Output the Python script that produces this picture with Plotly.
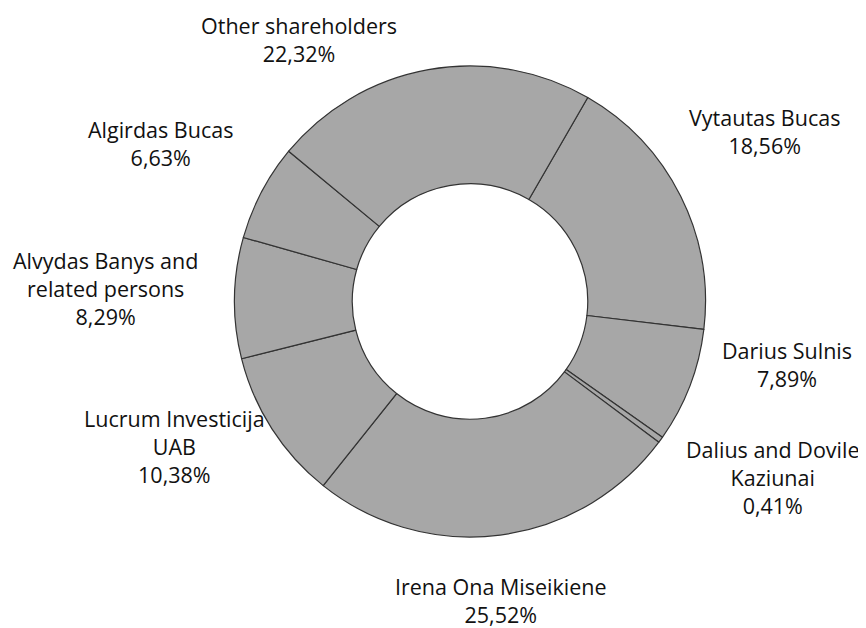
import plotly.graph_objects as go

# Data (clockwise order, starting from the top-right slice)
shareholders = [
    "Vytautas Bucas",
    "Darius Sulnis",
    "Dalius and Dovile<br>Kaziunai",
    "Irena Ona Miseikiene",
    "Lucrum Investicija<br>UAB",
    "Alvydas Banys and<br>related persons",
    "Algirdas Bucas",
    "Other shareholders",
]
shares_pct = [18.56, 7.89, 0.41, 25.52, 10.38, 8.29, 6.63, 22.32]

# Label placement (page-pixel centres of each label block)
label_x = [764, 787, 773, 501, 174, 105, 160, 299]
label_y = [131.5, 364.5, 477, 600, 446, 288, 143.5, 39.5]

PAGE_OFF = 8          # default body margin of the html page
W, H = 866 - PAGE_OFF, 628 - PAGE_OFF
cx, cy, r = 470 - PAGE_OFF, 301.5 - PAGE_OFF, 235.5

fig = go.Figure()
fig.add_trace(go.Pie(
    labels=shareholders,
    values=shares_pct,
    sort=False,
    direction="clockwise",
    rotation=30,
    hole=0.5,
    textinfo="none",
    hoverinfo="label+percent",
    marker=dict(colors=["#a7a7a7"] * len(shares_pct),
                line=dict(color="#333333", width=1.2)),
    domain=dict(x=[(cx - r) / W, (cx + r) / W],
                y=[(H - cy - r) / H, (H - cy + r) / H]),
    showlegend=False,
))

for name, v, lx, ly in zip(shareholders, shares_pct, label_x, label_y):
    txt = f"{name}<br>{v:.2f}".replace(".", ",") + "%"
    fig.add_annotation(
        x=(lx - PAGE_OFF) / W, y=1 - (ly - PAGE_OFF) / H,
        xref="paper", yref="paper",
        text=txt, showarrow=False, xanchor="center", yanchor="middle",
        align="center",
        font=dict(family="Open Sans, Noto Sans, sans-serif", size=21.5, color="#111111"),
    )

fig.update_layout(
    width=W, height=H,
    margin=dict(l=0, r=0, t=0, b=0),
    paper_bgcolor="white",
    plot_bgcolor="white",
)

fig.write_html("out.html")
